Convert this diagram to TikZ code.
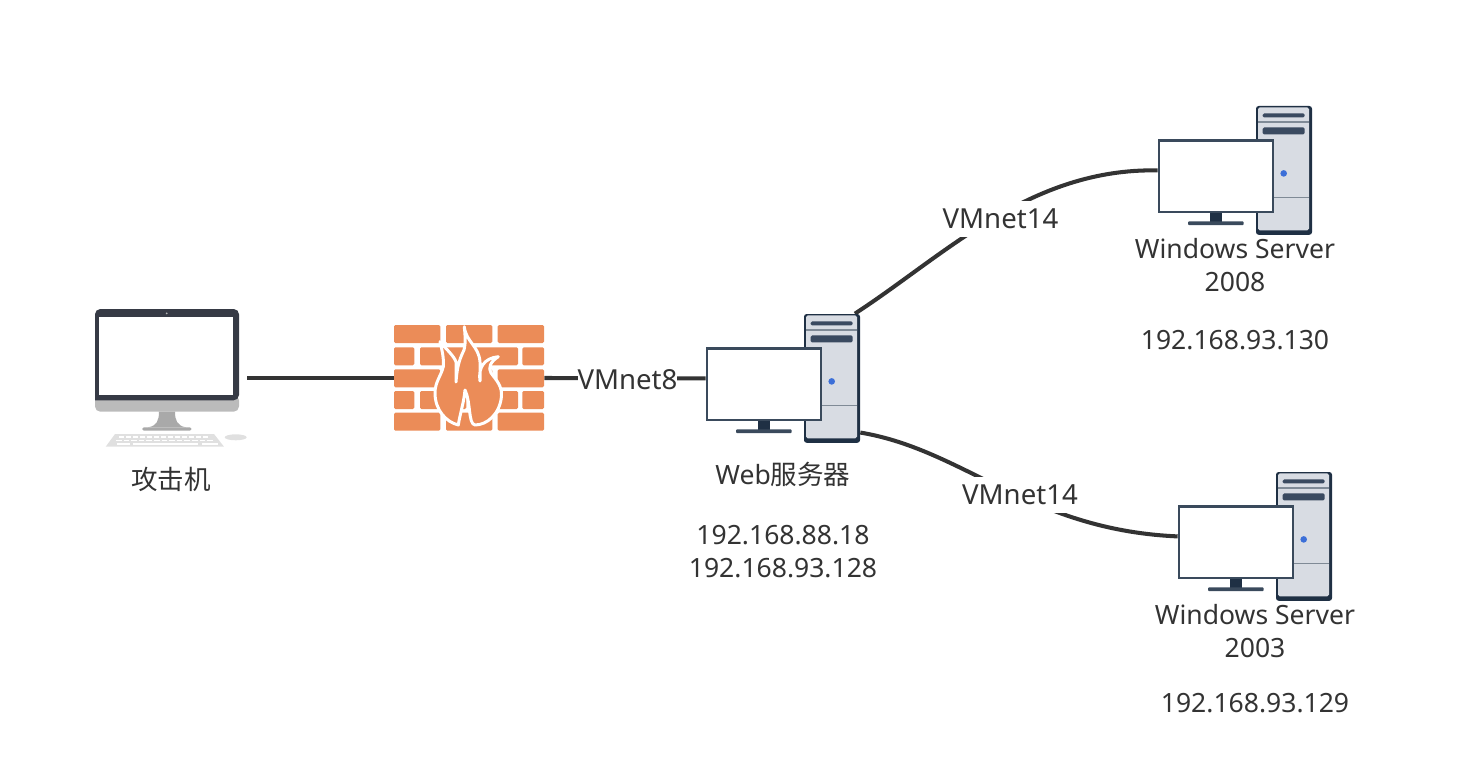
\documentclass[tikz,border=0pt]{standalone}
\usepackage{fontspec}
\usepackage{xcolor}
\setmainfont{Noto Sans}
\newfontfamily\cjk{Noto Sans CJK SC}
\usetikzlibrary{calc}
\definecolor{cLine}{HTML}{333333}
\definecolor{cText}{HTML}{333333}
\definecolor{cBrick}{HTML}{EB8C58}
\definecolor{cTower}{HTML}{1F3044}
\definecolor{cTowerF}{HTML}{D8DCE3}
\definecolor{cTowerL}{HTML}{7F8A96}
\definecolor{cSlot}{HTML}{3A4A60}
\definecolor{cScreen}{HTML}{3A4A5C}
\definecolor{cLed}{HTML}{3C6FD8}
\definecolor{cMacD}{HTML}{363A45}
\definecolor{cMacG}{HTML}{BBBBBB}
\definecolor{cStand}{HTML}{A9A9A9}
\definecolor{cKey}{HTML}{E0E0E0}
\tikzset{
  hostpc/.pic={
    \fill[cTower,rounded corners=1.5pt] (21,-64.4) rectangle (77,64.4);
    \fill[cTowerF,rounded corners=1pt] (23,-63) rectangle (74,60);
    \draw[cTowerL,line width=0.6pt] (23,-48.4) -- (74,-48.4);
    \draw[cTowerL,line width=0.6pt] (23,27.3) -- (74,27.3);
    \fill[cSlot,rounded corners=0.8pt] (27.7,-57) rectangle (69.7,-53);
    \fill[cSlot,rounded corners=0.8pt] (27.7,-43) rectangle (69.7,-36);
    \fill[cLed] (48.7,3) circle (3.3);
    \fill[cTower] (-25.3,42) rectangle (-12.7,51.5);
    \fill[cScreen,rounded corners=0.5pt] (-47,51) rectangle (8.7,54.7);
    \filldraw[fill=white,draw=cScreen,line width=1.3pt] (-76,-30) rectangle (38,41.5);
  }}
\begin{document}
\begin{tikzpicture}[x=0.02cm,y=-0.02cm,
  hostbox/.style={minimum width=3.08cm,minimum height=2.576cm,inner sep=0pt},
  link/.style={draw=cLine,line width=2.3pt},
  lbl/.style={font=\fontsize{15.1}{19}\selectfont,text=cText,align=center,inner sep=1pt},
  netlbl/.style={font=\fontsize{15.7}{19}\selectfont,text=cText,fill=white,
    inner xsep=0pt,inner ysep=0pt,minimum height=0.74cm}]
  \useasboundingbox (0,0) rectangle (1465,767);

  \node[minimum width=3.04cm,minimum height=2.76cm,inner sep=0pt] (attacker) at (171,378) {};
  \node[minimum width=3cm,minimum height=2.12cm,inner sep=0pt] (firewall) at (469,378) {};
  \node[hostbox] (web) at (783,378.4) {};
  \node[hostbox] (win08) at (1235,170.4) {};
  \node[hostbox] (win03) at (1255,536.4) {};

  \draw[link] (attacker.east) -- (firewall.west);
  \draw[link] (firewall.east) -- (web.west);
  \draw[link] (web.42.6) .. controls (945,255) and (1030,168) .. (win08.west);
  \draw[link] (web.-35.3) .. controls (965,450) and (1030,530) .. (win03.west);

  \fill[cMacG,rounded corners=3pt] (95,395) rectangle (239,411.7);
  \fill[cMacD,rounded corners=3pt] (95,400.3) -- (95,309) -- (239,309) -- (239,400.3) [sharp corners] -- cycle;
  \fill[white] (99,317) rectangle (233.3,394.7);
  \fill[white!70!black] (166.7,313.3) circle (1);
  \fill[cStand] (159,411.7) .. controls (159,420) and (157,426) .. (148,427.3)
    -- (186,427.3) .. controls (177,426) and (175,420) .. (175,411.7) -- cycle;
  \fill[cStand,rounded corners=1pt] (142,427.3) rectangle (191.7,430.7);
  \fill[cKey] (115,434) -- (214,434) -- (224,446.7) -- (105.7,446.7) -- cycle;
  \foreach \kx in {0,1,...,12} {
    \fill[white] (119+7*\kx,436) rectangle (124+7*\kx,438);
    \fill[white] (116+7.6*\kx,439.6) rectangle (121.5+7.6*\kx,441.4);
  }
  \fill[white] (117,443) rectangle (130,445);
  \fill[white] (133,443) rectangle (198,445);
  \fill[white] (202,443) rectangle (218,445);
  \fill[cKey] (235.7,437.3) ellipse (11 and 3);

  \foreach \by in {325,369.3,412.7} {
    \fill[cBrick,rounded corners=0.8pt] (394,\by) rectangle (440.3,\by+18);
    \fill[cBrick,rounded corners=0.8pt] (446,\by) rectangle (492.3,\by+18);
    \fill[cBrick,rounded corners=0.8pt] (497.7,\by) rectangle (544,\by+18);
  }
  \foreach \by in {347.3,391} {
    \fill[cBrick,rounded corners=0.8pt] (394,\by) rectangle (414.3,\by+18);
    \fill[cBrick,rounded corners=0.8pt] (420,\by) rectangle (466.3,\by+18);
    \fill[cBrick,rounded corners=0.8pt] (471.7,\by) rectangle (518,\by+18);
    \fill[cBrick,rounded corners=0.8pt] (522.3,\by) rectangle (544,\by+18);
  }
  \filldraw[fill=cBrick,draw=white,line width=1.7pt,line join=round]
    (464.3,326.7) .. controls (466,342) and (479,346) .. (480,362)
    .. controls (480.5,370) and (480,375) .. (480,381)
    .. controls (478,368) and (484,358) .. (498.3,356.7)
    .. controls (490,362) and (488,368) .. (491,373)
    .. controls (497,381) and (502,386) .. (501.5,396)
    .. controls (500,414) and (487,425) .. (475,425)
    .. controls (468,424) and (471,402) .. (465,390)
    .. controls (464,402) and (460,414) .. (458.3,425)
    .. controls (446,422) and (435,410) .. (435,393)
    .. controls (435,382) and (441,376) .. (443.3,366.7)
    .. controls (444,358) and (442,350) .. (440,341.7)
    .. controls (447,350) and (454,356) .. (456,362)
    .. controls (456.5,368) and (456,375) .. (456,382)
    .. controls (457,370) and (458,362) .. (464,350)
    .. controls (466,342) and (465,334) .. (464.3,326.7) -- cycle;

  \pic at (web) {hostpc};
  \pic at (win08) {hostpc};
  \pic at (win03) {hostpc};

  \node[netlbl] (net8) at (627.5,380) {VMnet8};
  \node[netlbl] (net14a) at (1000.5,219) {VMnet14};
  \node[netlbl] (net14b) at (1020,495) {VMnet14};

  \node[lbl] (attackername) at (171,479) {{\cjk 攻击机}};
  \node[lbl] (webname) at (783,474) {Web{\cjk 服务器}};
  \node[lbl] (webip) at (783,551.5) {192.168.88.18\\192.168.93.128};
  \node[lbl] (win08name) at (1235,265) {Windows Server\\2008};
  \node[lbl] (win08ip) at (1235,340.5) {192.168.93.130};
  \node[lbl] (win03name) at (1255,631) {Windows Server\\2003};
  \node[lbl] (win03ip) at (1255,703.5) {192.168.93.129};
\end{tikzpicture}
\end{document}
